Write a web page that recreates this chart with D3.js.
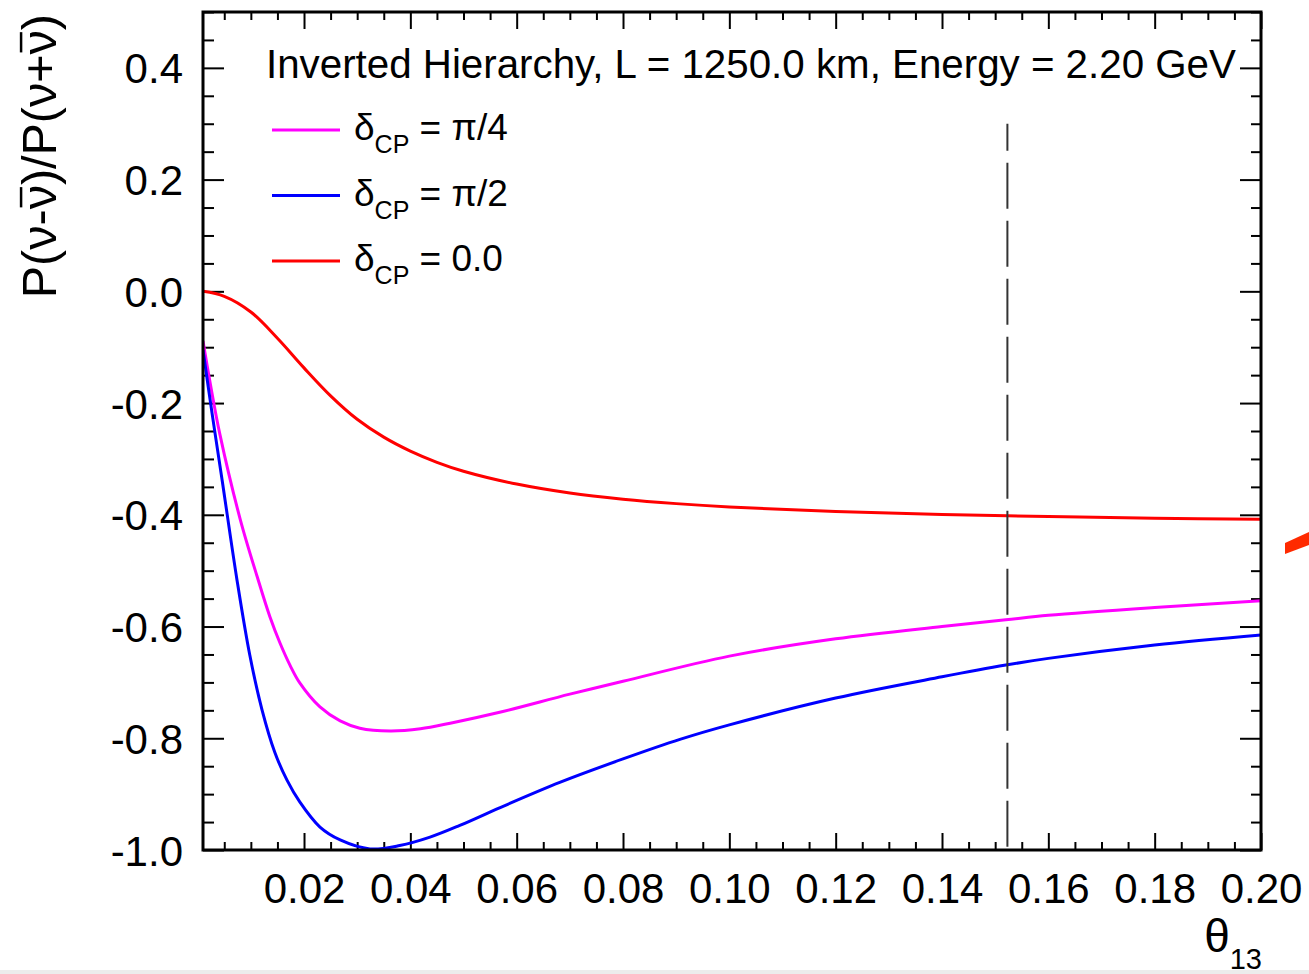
<!DOCTYPE html>
<html>
<head>
<meta charset="utf-8">
<script src="https://cdn.jsdelivr.net/npm/d3@7"></script>
<style>
  html, body { margin: 0; padding: 0; background: #fff; }
  svg { display: block; }
  text { font-family: "Liberation Sans", Arial, Helvetica, sans-serif; fill: #000; }
</style>
</head>
<body>
<svg id="chart" width="1309" height="974"></svg>
<script>
// θ13 scan of the CP asymmetry, one curve per δCP value
const thetaRed = [0.001, 0.005, 0.01, 0.015, 0.02, 0.025, 0.03, 0.035, 0.04, 0.045, 0.05, 0.06, 0.07, 0.08, 0.09, 0.1, 0.12, 0.14, 0.16, 0.18, 0.2];
const asymRed  = [0, -0.009, -0.037, -0.084, -0.137, -0.187, -0.229, -0.261, -0.286, -0.306, -0.322, -0.345, -0.361, -0.372, -0.380, -0.386, -0.394, -0.3995, -0.403, -0.406, -0.408];

const thetaMagenta = [0.001, 0.00235, 0.0042, 0.008, 0.0112, 0.0136, 0.0155, 0.0174, 0.0192, 0.023, 0.0268, 0.0305, 0.0362, 0.0419, 0.0475, 0.057, 0.07, 0.08, 0.1, 0.12, 0.14, 0.152, 0.16, 0.18, 0.2];
const asymMagenta  = [-0.089, -0.164, -0.257, -0.408, -0.511, -0.583, -0.630, -0.670, -0.701, -0.744, -0.769, -0.782, -0.787, -0.783, -0.773, -0.753, -0.721, -0.698, -0.653, -0.622, -0.600, -0.588, -0.580, -0.566, -0.554];

const thetaBlue = [0.001, 0.0027, 0.0046, 0.0074, 0.0098, 0.0121, 0.0145, 0.0168, 0.0192, 0.023, 0.0268, 0.0324, 0.038, 0.0437, 0.0493, 0.0569, 0.0681, 0.08, 0.0907, 0.1, 0.12, 0.14, 0.152, 0.16, 0.18, 0.2];
const asymBlue  = [-0.105, -0.218, -0.338, -0.517, -0.651, -0.749, -0.825, -0.875, -0.914, -0.959, -0.982, -0.998, -0.992, -0.977, -0.956, -0.924, -0.879, -0.837, -0.802, -0.776, -0.728, -0.690, -0.669, -0.657, -0.633, -0.615];

const xTicks = [0.02, 0.04, 0.06, 0.08, 0.10, 0.12, 0.14, 0.16, 0.18, 0.20];
const yTicks = [-1.0, -0.8, -0.6, -0.4, -0.2, 0.0, 0.2, 0.4];
const markerTheta = 0.1523;

const legendEntries = [
  { label: "π/4", color: "#ff00ff" },
  { label: "π/2", color: "#0000ff" },
  { label: "0.0", color: "#ff0000" }
];

const series = [
  { theta: thetaRed, asym: asymRed, color: "#ff0000" },
  { theta: thetaMagenta, asym: asymMagenta, color: "#ff00ff" },
  { theta: thetaBlue, asym: asymBlue, color: "#0000ff" }
];

const svg = d3.select("#chart");
const L = 203, R = 1261, T = 12, B = 850;

const x = d3.scaleLinear().domain([0.001, 0.2]).range([L, R]);
const y = d3.scaleLinear().domain([-1.0, 0.5]).range([B, T]);

// strip along the bottom edge
svg.append("rect").attr("x", 0).attr("y", 970).attr("width", 1309).attr("height", 4).attr("fill", "#ececec");

// neighbouring red stroke at the right margin
svg.append("path")
  .attr("d", "M1285,543 L1309,532 L1309,545 L1285,554 Z")
  .attr("fill", "#ff2a00");

const minorX = d3.range(0.005, 0.2001, 0.005).filter(v => Math.abs(Math.round(v / 0.02) * 0.02 - v) > 1e-6);
const minorY = d3.range(-0.95, 0.5001, 0.05).filter(v => Math.abs(Math.round(v / 0.2) * 0.2 - v) > 1e-6);

function tickAxis(axisFn, scale, ticks, size, fmt, translate, cls) {
  const g = svg.append("g").attr("class", cls).attr("transform", translate)
    .call(axisFn(scale).tickValues(ticks).tickSize(size).tickPadding(0).tickFormat(fmt));
  g.select(".domain").remove();
  g.selectAll(".tick line").attr("stroke", "#000").attr("stroke-width", 2);
  return g;
}

const none = () => "";
// bottom
const xb = tickAxis(d3.axisBottom, x, xTicks, -17, d => d.toFixed(2), `translate(0,${B})`, "xaxis");
tickAxis(d3.axisBottom, x, minorX, -8, none, `translate(0,${B})`, "xminor");
// top
tickAxis(d3.axisTop, x, xTicks, -17, none, `translate(0,${T})`, "xtop");
tickAxis(d3.axisTop, x, minorX, -8, none, `translate(0,${T})`, "xtopminor");
// left
const yl = tickAxis(d3.axisLeft, y, yTicks, -21, d => d.toFixed(1), `translate(${L},0)`, "yaxis");
tickAxis(d3.axisLeft, y, minorY, -11, none, `translate(${L},0)`, "yminor");
// right
tickAxis(d3.axisRight, y, yTicks, -21, none, `translate(${R},0)`, "yright");
tickAxis(d3.axisRight, y, minorY, -10, none, `translate(${R},0)`, "yrightminor");

xb.selectAll(".tick text")
  .attr("y", 0).attr("dy", 0)
  .attr("transform", "translate(0,53)")
  .style("font-size", "42px")
  .attr("text-anchor", "middle")
  .style("font-family", '"Liberation Sans", Arial, sans-serif');

yl.selectAll(".tick text")
  .attr("x", -20).attr("dy", "0.36em")
  .style("font-size", "42px")
  .attr("text-anchor", "end")
  .style("font-family", '"Liberation Sans", Arial, sans-serif');

// curves
const line = d3.line().x(d => x(d[0])).y(d => y(d[1])).curve(d3.curveCatmullRom.alpha(0.5));
const plot = svg.append("g");
plot.append("clipPath").attr("id", "frameclip")
  .append("rect").attr("x", L).attr("y", T).attr("width", R - L).attr("height", B - T + 2);

series.forEach(s => {
  plot.append("path")
    .datum(s.theta.map((t, i) => [t, s.asym[i]]))
    .attr("fill", "none")
    .attr("stroke", s.color)
    .attr("stroke-width", 3)
    .attr("clip-path", "url(#frameclip)")
    .attr("d", line);
});

// dashed marker line, drawn from its top end downwards
svg.append("line")
  .attr("x1", x(markerTheta)).attr("x2", x(markerTheta))
  .attr("y1", y(0.3)).attr("y2", y(-1.0))
  .attr("stroke", "#333")
  .attr("stroke-width", 2)
  .attr("stroke-dasharray", "46,12")
  .attr("stroke-dashoffset", 19);

// frame
svg.append("rect")
  .attr("x", L).attr("y", T).attr("width", R - L).attr("height", B - T)
  .attr("fill", "none").attr("stroke", "#000").attr("stroke-width", 3);

// header text
svg.append("text")
  .attr("x", 266).attr("y", 78)
  .style("font-size", "40.3px")
  .text("Inverted Hierarchy, L = 1250.0 km, Energy = 2.20 GeV");

// legend
const legend = svg.append("g");
legendEntries.forEach((e, i) => {
  const cy = 130 + i * 65.5;
  legend.append("line")
    .attr("x1", 272).attr("x2", 340).attr("y1", cy).attr("y2", cy)
    .attr("stroke", e.color).attr("stroke-width", 3);
  const t = legend.append("text").attr("x", 354).attr("y", cy + 10).style("font-size", "37px");
  t.append("tspan").text("δ");
  t.append("tspan").attr("dy", 13).style("font-size", "25px").text("CP");
  t.append("tspan").attr("dy", -13).text(" = " + e.label);
});

// y-axis title, aligned to the top of the axis; antineutrino bars drawn over the ν glyphs
const ytSize = 48.5;
const ytG = svg.append("g").attr("transform", `translate(56,${T + 2}) rotate(-90)`);
const ytText = ytG.append("text")
  .attr("x", 0).attr("y", 0)
  .attr("text-anchor", "end")
  .style("font-size", ytSize + "px")
  .text("P(ν-ν)/P(ν+ν)");
const ytNode = ytText.node();
[4, 11].forEach(ci => {
  const s = ytNode.getStartPositionOfChar(ci);
  const e = ytNode.getEndPositionOfChar(ci);
  ytG.append("line")
    .attr("x1", s.x + 2).attr("x2", e.x - 2)
    .attr("y1", -ytSize * 0.72).attr("y2", -ytSize * 0.72)
    .attr("stroke", "#000").attr("stroke-width", 2.5);
});

// x-axis title
const xt = svg.append("text")
  .attr("x", R + 1).attr("y", 952)
  .attr("text-anchor", "end")
  .style("font-size", "46px");
xt.append("tspan").text("θ");
xt.append("tspan").attr("dy", 17).style("font-size", "29px").text("13");
</script>
</body>
</html>
